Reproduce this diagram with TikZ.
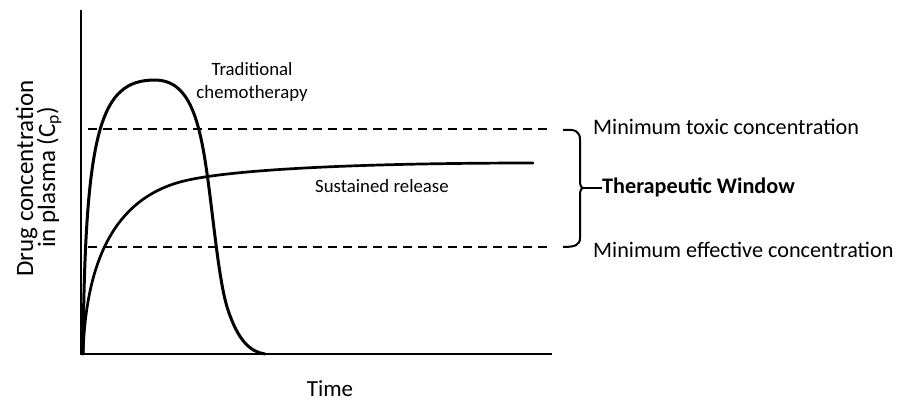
\documentclass[tikz,border=0pt]{standalone}
\usepackage{fontspec}
\setmainfont{Carlito}
\begin{document}
\begin{tikzpicture}[x=1pt,y=-1pt,
  curve/.style={line width=3pt,line cap=round,line join=round},
  axis/.style={line width=2.6pt},
  limit/.style={line width=2pt,dash pattern=on 9pt off 6pt},
  brace/.style={line width=2pt},
  biglbl/.style={inner sep=0pt,font=\fontsize{22.2}{26}\selectfont},
  smalllbl/.style={inner sep=0pt,font=\fontsize{18.8}{23}\selectfont},
  ylbl/.style={inner sep=0pt,rotate=90,anchor=base,font=\fontsize{25}{30}\selectfont}]
\useasboundingbox (0,0) rectangle (902,400);
% axes
\coordinate (ytop) at (81,10);
\coordinate (orig) at (81,354);
\coordinate (xend) at (552,354);
\draw[axis] (ytop) -- (orig) -- (xend);
% limits
\coordinate (mtcL) at (88,129);
\coordinate (mtcR) at (552,129);
\coordinate (mecL) at (88,247);
\coordinate (mecR) at (552,247);
\draw[limit] (mtcL) -- (mtcR);
\draw[limit] (mecL) -- (mecR);
% traditional chemotherapy
\draw[curve] (83,354) .. controls (85,130) and (100,80) .. (155,80)
  .. controls (185,80) and (197,110) .. (205,160)
  .. controls (213,210) and (218,280) .. (228,310)
  .. controls (238,340) and (250,352) .. (265,354);
% sustained release
\draw[curve,line width=2.7pt] (83,354) .. controls (86,260) and (115,200) .. (180,182)
  .. controls (230,168.2) and (380,163) .. (533,163);
% brace
\coordinate (btip) at (584,188);
\draw[brace] (563,130) .. controls (575,129) and (580,131) .. (580,140) -- (580,180)
  .. controls (580,186) and (581,188) .. (btip)
  .. controls (581,188) and (580,190) .. (580,196) -- (580,238)
  .. controls (580,245) and (575,247) .. (563,247);
% labels
\node[biglbl,anchor=base west] (mtc) at (593,134) {Minimum toxic concentration};
\node[biglbl,anchor=base west] (mec) at (593,257) {Minimum effective concentration};
\node[biglbl,anchor=base west,font=\fontsize{22.2}{26}\selectfont\bfseries] (tw) at (602,193) {Therapeutic Window};
\draw[brace] (btip) -- (tw.west |- btip);
\node[smalllbl,anchor=base] (trad1) at (252,75) {Traditional};
\node[smalllbl,anchor=base] (trad2) at (252,98) {chemotherapy};
\node[smalllbl,anchor=base west] (sr) at (315,192) {Sustained release};
\node[biglbl,anchor=base,font=\fontsize{23}{27}\selectfont] (time) at (330,396) {Time};
\node[ylbl] (yl1) at (33,178.5) {Drug concentration};
\node[ylbl] (yl2) at (55,177.5) {in plasma (C\textsubscript{p})};
\end{tikzpicture}
\end{document}
